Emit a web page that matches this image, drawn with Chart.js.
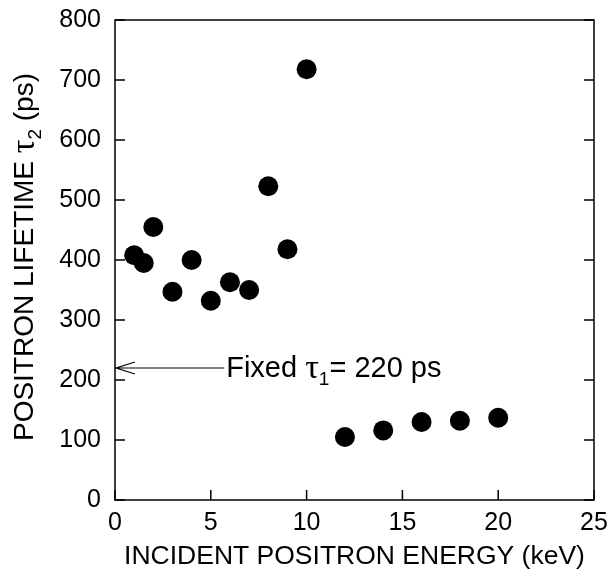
<!doctype html>
<html lang="en">
<head>
<meta charset="utf-8">
<title>Positron lifetime vs incident positron energy</title>
<script src="https://cdn.jsdelivr.net/npm/chart.js"></script>
<style>
  html, body { margin: 0; padding: 0; background: #fff; }
  #wrap { width: 611px; height: 587px; }
</style>
</head>
<body>
<div id="wrap"><canvas id="tau_canvas"></canvas></div>
<script>
// values
const energy   = [1, 1.5, 2, 3, 4, 5, 6, 7, 8, 9, 10, 12, 14, 16, 18, 20];
const lifetime = [408, 395, 455, 347, 400, 332, 363, 350, 523, 418, 718, 105, 116, 130, 132, 137];
const xTicks = [0, 5, 10, 15, 20, 25];
const yTicks = [0, 100, 200, 300, 400, 500, 600, 700, 800];
const fixedTau1 = 220;

const SANS = '"Liberation Sans", Arial, sans-serif';
const SERIF = '"Liberation Serif", "Times New Roman", serif';

// draw a line of text made of pieces with different fonts / offsets
function drawRuns(ctx, runs, x, y) {
    for (const r of runs) {
        ctx.font = r.font;
        ctx.fillText(r.t, x, y + (r.dy || 0));
        x += ctx.measureText(r.t).width;
    }
}
function runsWidth(ctx, runs) {
    let w = 0;
    for (const r of runs) { ctx.font = r.font; w += ctx.measureText(r.t).width; }
    return w;
}

const framePlugin = {
    id: 'frame',
    afterDraw(chart) {
        const ctx = chart.ctx;
        const a = chart.chartArea;
        const xs = chart.scales.x, ys = chart.scales.y;
        ctx.save();
        ctx.strokeStyle = '#000';
        ctx.lineWidth = 1.5;
        ctx.strokeRect(a.left, a.top, a.right - a.left, a.bottom - a.top);
        // inward ticks, bottom / left / right
        ctx.beginPath();
        for (const v of xTicks) {
            const px = xs.getPixelForValue(v);
            ctx.moveTo(px, a.bottom); ctx.lineTo(px, a.bottom - 10);
        }
        for (const v of yTicks) {
            const py = ys.getPixelForValue(v);
            ctx.moveTo(a.left, py); ctx.lineTo(a.left + 10, py);
            ctx.moveTo(a.right, py); ctx.lineTo(a.right - 10, py);
        }
        ctx.stroke();

        // arrow to the axis at tau1 = 220 ps
        const ay = ys.getPixelForValue(fixedTau1);
        const tail = xs.getPixelForValue(5.7);
        ctx.lineWidth = 1.2;
        ctx.beginPath();
        ctx.moveTo(a.left, ay); ctx.lineTo(tail, ay);
        ctx.moveTo(a.left + 20, ay - 6); ctx.lineTo(a.left + 1, ay); ctx.lineTo(a.left + 20, ay + 6);
        ctx.stroke();

        ctx.fillStyle = '#000';
        ctx.textBaseline = 'middle';
        ctx.textAlign = 'left';
        drawRuns(ctx, [
            {t: 'Fixed ', font: '29px ' + SANS},
            {t: '\u03c4', font: '34px ' + SERIF},
            {t: '1', font: '19px ' + SANS, dy: 11},
            {t: '= 220 ps', font: '29px ' + SANS}
        ], tail + 2, ay + 1);

        // y axis title with subscript
        const yRuns = [
            {t: 'POSITRON LIFETIME ', font: '28px ' + SANS},
            {t: '\u03c4', font: '34px ' + SERIF},
            {t: '2', font: '19px ' + SANS, dy: 11},
            {t: ' (ps)', font: '28px ' + SANS}
        ];
        const w = runsWidth(ctx, yRuns);
        ctx.translate(25, (a.top + a.bottom) / 2 - 3);
        ctx.rotate(-Math.PI / 2);
        drawRuns(ctx, yRuns, -w / 2, 0);
        ctx.restore();
    }
};

new Chart(document.getElementById('tau_canvas'), {
    type: 'scatter',
    data: {
        datasets: [{
            label: 'tau2',
            data: energy.map((e, i) => ({x: e, y: lifetime[i]})),
            backgroundColor: '#000',
            borderWidth: 0,
            pointRadius: 10,
            pointHoverRadius: 10
        }]
    },
    options: {
        responsive: true,
        maintainAspectRatio: false,
        animation: false,
        layout: {padding: {top: 20, right: 17, left: 0, bottom: 0}},
        plugins: {legend: {display: false}, tooltip: {enabled: false}},
        scales: {
            x: {
                type: 'linear',
                min: 0, max: 25,
                afterBuildTicks: s => { s.ticks = xTicks.map(v => ({value: v})); },
                afterFit: s => { s.height = 87; s.paddingLeft = 0; s.paddingRight = 0; },
                grid: {display: false, drawTicks: false},
                border: {display: false},
                ticks: {color: '#000', padding: 8, font: {family: SANS, size: 25}},
                title: {
                    display: true,
                    text: 'INCIDENT POSITRON ENERGY (keV)',
                    color: '#000',
                    font: {family: SANS, size: 26.5},
                    padding: {top: 0, bottom: 14}
                }
            },
            y: {
                type: 'linear',
                min: 0, max: 800,
                afterBuildTicks: s => { s.ticks = yTicks.map(v => ({value: v})); },
                afterFit: s => { s.width = 115; s.paddingTop = 0; s.paddingBottom = 0; },
                grid: {display: false, drawTicks: false},
                border: {display: false},
                ticks: {color: '#000', padding: 14, font: {family: SANS, size: 25}}
            }
        }
    },
    plugins: [framePlugin]
});
</script>
</body>
</html>
